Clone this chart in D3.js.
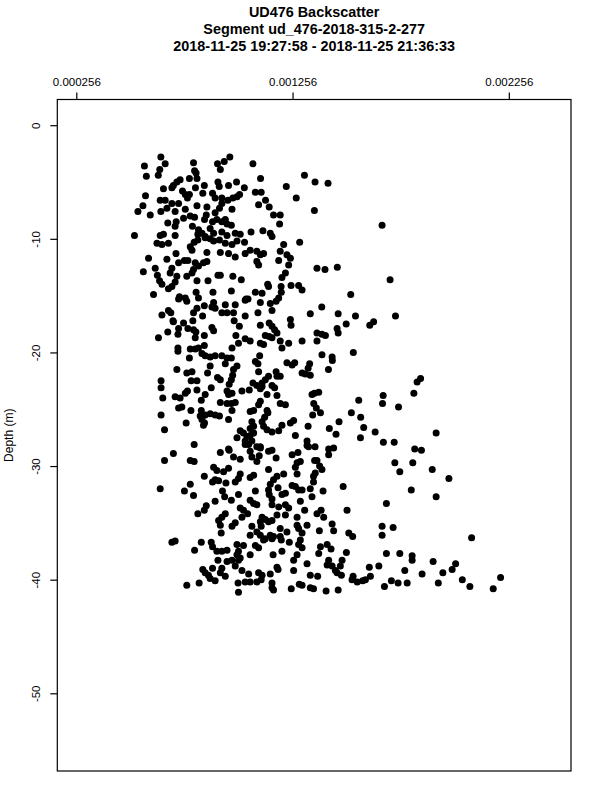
<!DOCTYPE html>
<html>
<head>
<meta charset="utf-8">
<script src="https://cdn.jsdelivr.net/npm/d3@7"></script>
<style>
  html, body { margin: 0; padding: 0; background: #fff; }
  svg { display: block; font-family: "Liberation Sans", Arial, Helvetica, sans-serif; }
</style>
</head>
<body>
<svg id="chart" width="600" height="800"></svg>
<script>
// ---- chart text ----
const titleLines = [
  "UD476 Backscatter",
  "Segment ud_476-2018-315-2-277",
  "2018-11-25 19:27:58 - 2018-11-25 21:36:33"
];
const yLabel = "Depth (m)";

// ---- axis ticks ----
const xTickValues = [0.000256, 0.001256, 0.002256];
const xTickLabels = ["0.000256", "0.001256", "0.002256"];
const yTickValues = [0, -10, -20, -30, -40, -50];
const yTickLabels = ["0", "-10", "-20", "-30", "-40", "-50"];

// ---- data: backscatter (x) and depth in m (y) ----
const backscatter = [
647e-6,667e-6,571e-6,798e-6,909e-6,940e-6,966e-6,1073e-6,922e-6,803e-6,810e-6,642e-6,635e-6,580e-6,1311e-6,1108e-6,736e-6,721e-6,705e-6,698e-6,
779e-6,814e-6,911e-6,917e-6,848e-6,807e-6,659e-6,960e-6,997e-6,1033e-6,1227e-6,1084e-6,1111e-6,747e-6,760e-6,770e-6,779e-6,841e-6,886e-6,898e-6,
929e-6,957e-6,980e-6,999e-6,1011e-6,1131e-6,1273e-6,576e-6,644e-6,667e-6,564e-6,541e-6,598e-6,647e-6,675e-6,698e-6,729e-6,713e-6,760e-6,814e-6,
860e-6,898e-6,918e-6,929e-6,976e-6,1099e-6,1148e-6,1168e-6,1199e-6,1357e-6,752e-6,783e-6,803e-6,857e-6,849e-6,886e-6,906e-6,929e-6,945e-6,953e-6,
679e-6,718e-6,713e-6,793e-6,821e-6,837e-6,852e-6,875e-6,891e-6,973e-6,991e-6,1196e-6,525e-6,644e-6,659e-6,713e-6,818e-6,929e-6,953e-6,1064e-6,
1119e-6,1153e-6,1161e-6,1014e-6,629e-6,652e-6,682e-6,801e-6,818e-6,852e-6,875e-6,891e-6,918e-6,945e-6,976e-6,999e-6,1034e-6,1215e-6,1289e-6,717e-6,
783e-6,791e-6,860e-6,922e-6,960e-6,991e-6,1037e-6,1060e-6,1091e-6,1107e-6,1122e-6,1091e-6,1099e-6,1199e-6,1230e-6,1246e-6,590e-6,675e-6,729e-6,756e-6,
772e-6,806e-6,821e-6,798e-6,791e-6,844e-6,860e-6,1192e-6,1238e-6,566e-6,621e-6,631e-6,698e-6,690e-6,721e-6,713e-6,698e-6,682e-6,767e-6,814e-6,
865e-6,911e-6,922e-6,980e-6,1019e-6,1223e-6,1207e-6,641e-6,652e-6,613e-6,733e-6,810e-6,888e-6,973e-6,1041e-6,1084e-6,1115e-6,1141e-6,1145e-6,1203e-6,
1204e-6,1249e-6,1284e-6,1300e-6,1360e-6,1420e-6,1670e-6,1369e-6,1406e-6,1463e-6,1707e-6,1525e-6,729e-6,760e-6,767e-6,821e-6,891e-6,883e-6,898e-6,848e-6,
814e-6,945e-6,991e-6,1037e-6,1050e-6,1107e-6,1153e-6,1192e-6,1180e-6,1161e-6,682e-6,693e-6,652e-6,798e-6,929e-6,953e-6,983e-6,1096e-6,840e-6,1037e-6,
1338e-6,703e-6,705e-6,752e-6,729e-6,726e-6,795e-6,772e-6,798e-6,809e-6,883e-6,891e-6,986e-6,1010e-6,1107e-6,1148e-6,1161e-6,1173e-6,1246e-6,1249e-6,
679e-6,848e-6,806e-6,636e-6,994e-6,1037e-6,1060e-6,1006e-6,1130e-6,1148e-6,1161e-6,1184e-6,1107e-6,1122e-6,1199e-6,1207e-6,1238e-6,1300e-6,726e-6,726e-6,
783e-6,806e-6,821e-6,848e-6,837e-6,852e-6,875e-6,898e-6,929e-6,953e-6,973e-6,976e-6,1104e-6,779e-6,1084e-6,1096e-6,945e-6,999e-6,983e-6,979e-6,
973e-6,963e-6,875e-6,1230e-6,1254e-6,1266e-6,1300e-6,1328e-6,1335e-6,1315e-6,721e-6,767e-6,791e-6,863e-6,909e-6,922e-6,1099e-6,1145e-6,1130e-6,1115e-6,
1180e-6,1184e-6,1199e-6,648e-6,787e-6,814e-6,1073e-6,1091e-6,1161e-6,1173e-6,648e-6,880e-6,814e-6,1022e-6,1056e-6,1107e-6,1115e-6,770e-6,760e-6,953e-6,
960e-6,976e-6,1346e-6,656e-6,713e-6,736e-6,852e-6,834e-6,1138e-6,1184e-6,922e-6,953e-6,973e-6,991e-6,1107e-6,1099e-6,1199e-6,1223e-6,729e-6,744e-6,
786e-6,834e-6,976e-6,1060e-6,1076e-6,1138e-6,1142e-6,1127e-6,648e-6,829e-6,852e-6,875e-6,898e-6,918e-6,1349e-6,960e-6,837e-6,844e-6,849e-6,764e-6,
1068e-6,1076e-6,1060e-6,1076e-6,1060e-6,1045e-6,1115e-6,1122e-6,1138e-6,1161e-6,1207e-6,1246e-6,1261e-6,1328e-6,664e-6,1014e-6,1029e-6,1192e-6,1269e-6,999e-6,
1037e-6,1053e-6,1068e-6,1091e-6,1107e-6,1323e-6,1330e-6,801e-6,960e-6,1391e-6,1467e-6,1547e-6,1732e-6,1504e-6,1613e-6,1631e-6,1462e-6,1467e-6,1369e-6,1392e-6,
1408e-6,1369e-6,1392e-6,1439e-6,1440e-6,1537e-6,1338e-6,1422e-6,1832e-6,1848e-6,1357e-6,1377e-6,1817e-6,1354e-6,1366e-6,1385e-6,1562e-6,1675e-6,1672e-6,1746e-6,
1528e-6,1571e-6,1471e-6,1426e-6,1457e-6,1585e-6,1638e-6,1920e-6,1570e-6,1360e-6,1676e-6,1726e-6,1423e-6,1446e-6,1821e-6,1852e-6,705e-6,664e-6,783e-6,801e-6,
922e-6,963e-6,983e-6,1014e-6,1037e-6,1060e-6,1068e-6,1091e-6,1102e-6,1107e-6,1145e-6,1161e-6,1180e-6,1254e-6,1281e-6,1277e-6,1292e-6,1269e-6,1323e-6,1358e-6,
891e-6,906e-6,937e-6,960e-6,848e-6,1014e-6,1006e-6,991e-6,1060e-6,1076e-6,1145e-6,1215e-6,1277e-6,1184e-6,1168e-6,1153e-6,1145e-6,1148e-6,1161e-6,886e-6,
898e-6,914e-6,948e-6,783e-6,644e-6,756e-6,798e-6,932e-6,942e-6,973e-6,1006e-6,1084e-6,1189e-6,1207e-6,1223e-6,1254e-6,1269e-6,1284e-6,1338e-6,1346e-6,
1292e-6,898e-6,1060e-6,1076e-6,1091e-6,1161e-6,1192e-6,1223e-6,1238e-6,857e-6,848e-6,818e-6,1014e-6,1029e-6,1048e-6,945e-6,929e-6,914e-6,922e-6,1312e-6,
1022e-6,1115e-6,1130e-6,1145e-6,1161e-6,1184e-6,1223e-6,1277e-6,1277e-6,1284e-6,991e-6,976e-6,1068e-6,1107e-6,1111e-6,1199e-6,1230e-6,1323e-6,926e-6,1091e-6,
1107e-6,1122e-6,1130e-6,1153e-6,1161e-6,1168e-6,1060e-6,1199e-6,1204e-6,1300e-6,1292e-6,1284e-6,1241e-6,698e-6,713e-6,834e-6,880e-6,886e-6,999e-6,1029e-6,
1084e-6,1099e-6,803e-6,906e-6,929e-6,953e-6,1006e-6,999e-6,1014e-6,1006e-6,1060e-6,1166e-6,1207e-6,1277e-6,911e-6,953e-6,976e-6,1261e-6,991e-6,1323e-6,
841e-6,852e-6,886e-6,929e-6,922e-6,945e-6,1022e-6,1184e-6,1189e-6,1261e-6,867e-6,875e-6,898e-6,1053e-6,1099e-6,1115e-6,1111e-6,1091e-6,1153e-6,1060e-6,
1037e-6,1338e-6,767e-6,824e-6,1004e-6,1006e-6,1161e-6,1168e-6,1161e-6,1250e-6,1287e-6,1338e-6,1423e-6,1369e-6,1381e-6,1392e-6,1729e-6,1812e-6,1752e-6,1902e-6,
1979e-6,1361e-6,1353e-6,1353e-6,1490e-6,1300e-6,1397e-6,1805e-6,1920e-6,1690e-6,1369e-6,1388e-6,1400e-6,1508e-6,1439e-6,1670e-6,1721e-6,1670e-6,1380e-6,1446e-6,
1516e-6,1534e-6,2084e-6,1385e-6,1416e-6,1434e-6,1300e-6,1377e-6,1505e-6,1690e-6,1752e-6,1809e-6,1809e-6,1423e-6,1416e-6,1439e-6,1454e-6,1462e-6,1477e-6,1485e-6,
1611e-6,1655e-6,1906e-6,2010e-6,1994e-6,1775e-6,1855e-6,1951e-6,1372e-6,1482e-6,1536e-6,1531e-6,1555e-6,1580e-6,1593e-6,1616e-6,2041e-6,2218e-6,1713e-6,1744e-6,
1786e-6,1930e-6,1300e-6,1353e-6,1411e-6,1467e-6,1681e-6,2076e-6,2184e-6
];
const depth = [
-2.8,-3.4,-3.6,-3.3,-3.4,-3.2,-2.8,-3.4,-3.9,-4.0,-4.2,-3.9,-4.4,-4.5,-4.4,-4.7,-4.8,-5.0,-5.3,-5.5,
-4.7,-4.7,-5.0,-5.4,-5.3,-5.5,-5.6,-5.3,-5.0,-5.5,-5.4,-5.9,-5.9,-5.8,-6.1,-6.4,-6.1,-6.0,-6.0,-6.4,
-6.4,-6.6,-6.4,-6.3,-6.1,-6.6,-6.4,-6.2,-6.6,-6.6,-7.1,-7.6,-7.9,-7.6,-7.3,-6.9,-6.9,-7.6,-7.4,-7.1,
-7.2,-7.7,-7.3,-6.9,-7.4,-7.0,-7.2,-7.9,-7.9,-7.5,-8.2,-8.0,-8.1,-7.9,-8.3,-8.5,-8.3,-8.5,-8.3,-8.7,
-8.6,-8.5,-8.9,-8.9,-9.2,-9.5,-9.8,-9.1,-9.5,-8.8,-9.5,-8.7,-9.7,-9.7,-9.6,-9.7,-9.6,-9.4,-9.7,-9.4,
-9.3,-9.5,-9.8,-9.6,-10.4,-10.5,-10.4,-10.3,-10.1,-9.9,-10.0,-10.2,-10.1,-10.4,-10.5,-10.2,-10.3,-10.5,-10.3,-11.3,
-10.7,-11.0,-11.2,-11.2,-11.3,-11.6,-11.3,-11.0,-11.1,-11.4,-11.3,-12.0,-12.3,-11.1,-11.4,-11.7,-11.7,-11.8,-12.1,-11.9,
-11.9,-12.1,-12.4,-12.7,-13.0,-12.1,-12.0,-11.9,-12.3,-12.9,-12.6,-13.2,-12.6,-13.0,-13.3,-13.8,-14.2,-14.4,-13.3,-13.7,
-13.7,-13.2,-13.2,-13.3,-13.6,-13.0,-13.4,-13.7,-14.0,-14.9,-15.1,-14.7,-14.7,-14.6,-15.3,-14.7,-14.8,-14.0,-14.2,-14.2,
-14.7,-14.1,-14.1,-14.5,-5.0,-5.1,-8.8,-12.6,-12.7,-12.5,-13.6,-14.9,-15.3,-15.2,-15.5,-15.2,-15.6,-16.0,-16.1,-15.9,
-16.1,-15.8,-15.8,-15.4,-15.3,-15.6,-15.7,-15.2,-15.5,-16.3,-16.3,-16.5,-16.7,-16.5,-16.5,-16.5,-16.5,-16.5,-16.8,-16.8,
-16.6,-17.2,-17.3,-17.4,-17.9,-18.4,-17.2,-17.9,-18.0,-18.2,-17.8,-18.1,-17.2,-17.7,-17.6,-17.4,-17.7,-18.0,-17.1,-17.6,
-18.2,-18.5,-18.7,-18.7,-18.5,-18.8,-19.0,-19.2,-18.5,-18.6,-18.7,-18.3,-19.2,-19.3,-19.0,-19.6,-19.2,-19.0,-19.6,-19.9,
-19.7,-19.7,-19.6,-19.4,-20.1,-20.3,-20.4,-20.3,-20.3,-20.5,-20.5,-19.6,-20.3,-20.5,-20.8,-21.0,-21.0,-21.2,-21.5,-22.0,
-22.4,-22.8,-21.2,-20.9,-21.1,-20.9,-21.8,-21.4,-21.0,-21.9,-21.5,-21.8,-21.7,-21.8,-22.2,-22.4,-21.7,-22.1,-22.4,-22.7,
-21.7,-22.1,-22.1,-22.5,-22.5,-22.5,-22.7,-22.9,-22.9,-23.1,-23.1,-23.1,-23.3,-23.4,-23.3,-23.2,-23.0,-23.4,-23.6,-23.4,
-23.7,-23.6,-23.7,-24.0,-23.9,-24.0,-23.7,-24.2,-23.7,-23.8,-24.4,-24.5,-24.5,-24.4,-24.3,-24.6,-24.5,-24.6,-24.9,-24.8,
-25.1,-25.1,-25.1,-25.2,-25.1,-25.1,-25.3,-25.7,-25.5,-25.6,-25.5,-25.4,-25.5,-25.6,-25.5,-25.9,-25.9,-26.4,-26.2,-26.2,
-26.1,-26.5,-26.7,-27.1,-27.3,-27.4,-26.1,-26.5,-26.8,-27.0,-26.4,-26.2,-26.0,-26.5,-26.8,-26.9,-27.1,-26.9,-27.3,-27.5,
-27.8,-28.1,-27.8,-28.3,-28.3,-27.8,-28.3,-28.1,-28.5,-16.0,-16.6,-16.8,-16.8,-17.5,-17.6,-17.3,-17.9,-18.3,-18.3,-18.4,
-18.5,-19.0,-20.2,-20.4,-20.7,-20.0,-22.0,-21.5,-22.6,-22.3,-23.6,-23.5,-23.6,-24.5,-24.9,-25.3,-24.2,-23.8,-24.5,-24.8,
-25.3,-25.7,-26.1,-26.7,-27.2,-26.6,-27.0,-27.1,-27.5,-28.3,-27.9,-27.9,-28.5,-28.4,-28.5,-28.6,-28.9,-29.5,-29.5,-29.6,
-28.8,-28.6,-29.2,-29.4,-28.1,-28.7,-29.2,-29.6,-29.1,-28.4,-28.7,-28.6,-29.3,-29.0,-28.8,-29.7,-29.6,-30.1,-28.2,-29.5,
-30.1,-30.4,-30.5,-30.2,-30.9,-30.7,-31.1,-31.4,-31.0,-30.8,-30.3,-30.7,-30.7,-30.9,-31.2,-31.6,-32.1,-32.5,-32.9,-31.4,
-31.2,-31.3,-31.5,-31.6,-32.0,-32.2,-32.6,-32.2,-32.7,-33.0,-32.5,-32.2,-31.9,-32.5,-32.4,-31.7,-31.8,-32.1,-32.0,-32.7,
-33.1,-33.1,-33.0,-33.3,-33.4,-33.4,-33.6,-33.4,-33.7,-33.5,-33.9,-34.2,-33.7,-33.9,-34.2,-34.2,-34.5,-34.8,-35.2,-33.9,
-34.5,-34.5,-34.7,-34.9,-34.8,-34.3,-34.3,-34.5,-35.2,-35.5,-35.0,-35.3,-35.3,-34.9,-35.3,-35.5,-35.8,-35.2,-35.9,-35.8,
-36.1,-36.5,-36.4,-36.1,-36.4,-36.2,-36.1,-36.2,-36.5,-35.9,-36.5,-36.9,-36.7,-36.7,-36.6,-36.7,-36.7,-37.1,-36.9,-37.0,
-37.0,-37.2,-37.4,-37.5,-37.5,-37.4,-37.5,-37.8,-38.1,-38.3,-37.8,-37.8,-37.5,-37.8,-38.3,-38.4,-38.3,-38.3,-38.8,-38.6,
-39.1,-39.4,-39.0,-39.0,-39.4,-39.7,-39.2,-38.9,-39.1,-39.2,-39.6,-39.9,-40.1,-39.5,-39.4,-39.6,-40.0,-40.2,-39.5,-40.2,
-40.2,-39.6,-40.5,-40.3,-40.3,-41.1,-40.3,-40.9,-40.7,-40.8,-40.4,-40.7,-29.0,-29.5,-30.0,-30.3,-29.7,-29.7,-30.5,-30.3,
-31.1,-30.6,-30.9,-31.4,-31.8,-32.1,-32.2,-32.1,-32.7,-33.3,-34.2,-33.9,-34.5,-33.9,-35.1,-35.3,-35.4,-36.1,-35.7,-35.7,
-35.9,-36.2,-36.3,-37.1,-36.9,-37.3,-37.2,-37.7,-37.6,-37.7,-37.7,-37.9,-38.3,-38.3,-38.7,-38.8,-39.2,-39.4,-38.8,-38.3,
-38.9,-38.8,-38.4,-38.6,-39.1,-39.2,-39.5,-39.4,-39.7,-39.6,-39.7,-40.0,-40.2,-40.1,-40.0,-39.7,-40.0,-39.8,-40.1,-40.3,
-40.3,-40.3,-40.5,-40.8,-41.0,-40.9,-40.6,-40.6,-40.8
];

// ---- layout ----
const svg = d3.select("#chart");
const box = { left: 57.3, right: 571, top: 99.5, bottom: 771 };

const x = d3.scaleLinear().domain([0.000256, 0.002256]).range([76.3, 508.8]);
const y = d3.scaleLinear().domain([0, -50]).range([125.2, 693.3]);

// title
svg.append("g").selectAll("text").data(titleLines).join("text")
  .attr("x", (box.left + box.right) / 2)
  .attr("y", (d, i) => 17 + i * 17)
  .attr("text-anchor", "middle")
  .attr("font-size", 14.4)
  .attr("font-weight", "bold")
  .attr("fill", "#000")
  .text(d => d);

// plot box
svg.append("rect")
  .attr("x", box.left).attr("y", box.top)
  .attr("width", box.right - box.left).attr("height", box.bottom - box.top)
  .attr("fill", "none").attr("stroke", "#000").attr("stroke-width", 1.2);

// top axis
const xAxis = d3.axisTop(x)
  .tickValues(xTickValues)
  .tickFormat((d, i) => xTickLabels[i])
  .tickSizeOuter(0).tickSizeInner(7).tickPadding(7);
const gx = svg.append("g").attr("transform", `translate(0,${box.top})`).call(xAxis);
gx.select(".domain").remove();
gx.selectAll("line").attr("stroke", "#000").attr("stroke-width", 1.2);
gx.selectAll("text").attr("font-size", 11.5).attr("fill", "#000")
  .attr("font-family", "Liberation Sans, Arial, sans-serif");

// left axis
const yAxis = d3.axisLeft(y)
  .tickValues(yTickValues)
  .tickFormat((d, i) => yTickLabels[i])
  .tickSizeOuter(0).tickSizeInner(7);
const gy = svg.append("g").attr("transform", `translate(${box.left},0)`).call(yAxis);
gy.select(".domain").remove();
gy.selectAll("line").attr("stroke", "#000").attr("stroke-width", 1.2);
gy.selectAll("text")
  .attr("font-size", 11.5).attr("fill", "#000")
  .attr("font-family", "Liberation Sans, Arial, sans-serif")
  .attr("x", null).attr("dy", null)
  .attr("text-anchor", "middle")
  .attr("transform", `translate(${40 - box.left},0) rotate(-90)`);

// y label
svg.append("text")
  .attr("transform", `translate(12.5,${(box.top + box.bottom) / 2}) rotate(-90)`)
  .attr("text-anchor", "middle")
  .attr("font-size", 12)
  .attr("fill", "#000")
  .text(yLabel);

// points
svg.append("g").selectAll("circle")
  .data(d3.range(Math.min(backscatter.length, depth.length)))
  .join("circle")
  .attr("cx", i => x(backscatter[i]))
  .attr("cy", i => y(depth[i]))
  .attr("r", 3.5)
  .attr("fill", "#000");
</script>
</body>
</html>
